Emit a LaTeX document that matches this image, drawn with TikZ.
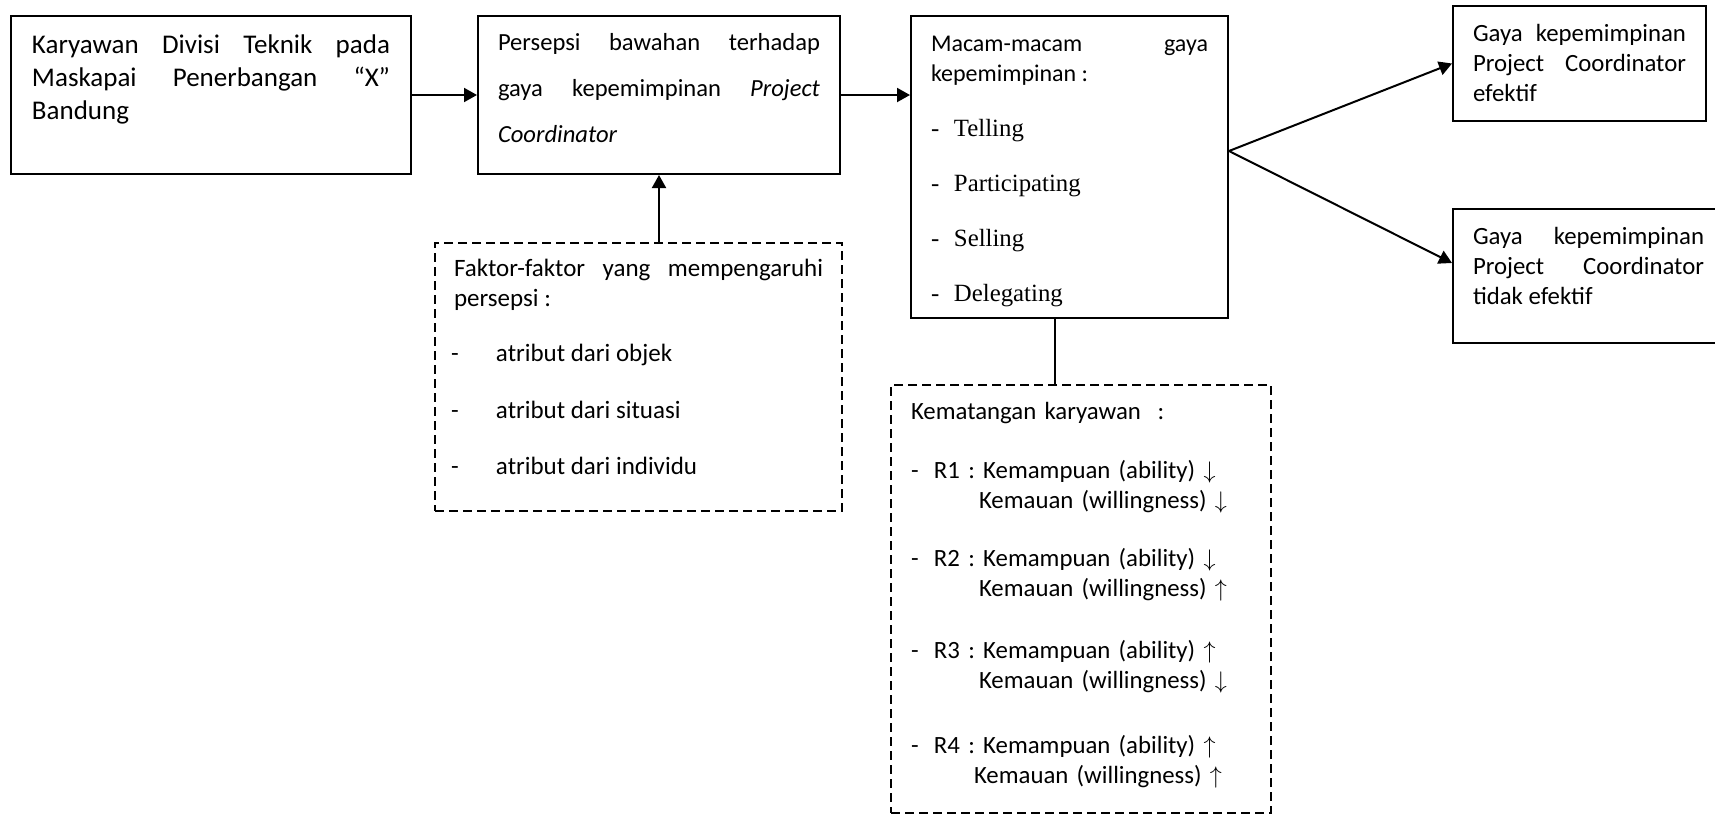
\documentclass[tikz,border=0pt]{standalone}
\usepackage{fontspec}
\setmainfont{Carlito}
\newfontfamily\timesfont{Liberation Serif}
\usetikzlibrary{arrows.meta}
\frenchspacing
\tolerance=10000
\hbadness=10000
\hyphenpenalty=10000
\exhyphenpenalty=10000
\newcommand\gayaItem[1]{{\timesfont\fontsize{12.4}{15}\selectfont\makebox[11.5pt][l]{-}#1}}
\newcommand\faktorItem[1]{\hspace*{-1.5pt}\makebox[22.5pt][l]{-}#1}

\begin{document}
\begin{tikzpicture}
[x=0.5pt,y=-0.5pt,%
  boxDecorate/.style={draw,line width=1pt,anchor=north west,inner xsep=10pt,inner ysep=0pt,align=justify},%
  dashDecorate/.style={boxDecorate,dash pattern=on 4.5pt off 2.5pt},%
  arrowDecorate/.style={-{Triangle[length=6.5pt,width=7pt]},line width=1pt},%
  lineDecorate/.style={-,line width=1pt}]
\useasboundingbox (0,0) rectangle (1715,815);
%% boxes
\node (karyawan) at (10,15) [boxDecorate,inner xsep=10.5pt,text width=179pt,
  text height=18.5pt,text depth=60.5pt,font=\fontsize{13.5}{16.5}\selectfont]
  {Karyawan Divisi Teknik pada\linebreak Maskapai Penerbangan “X”\linebreak Bandung};
\node (persepsi) at (477,15) [boxDecorate,text width=161pt,
  text height=17pt,text depth=62pt,font=\fontsize{12.3}{23}\selectfont]
  {Persepsi bawahan terhadap\linebreak gaya kepemimpinan \textit{Project}\linebreak \textit{Coordinator}};
\node (macam) at (910,15) [boxDecorate,text width=138.5pt,
  text height=17.5pt,text depth=133.5pt,font=\fontsize{12}{15}\selectfont]
  {Macam-macam gaya\linebreak kepemimpinan :\\[12.5pt]
   \gayaItem{Telling}\\[12.5pt]
   \gayaItem{Participating}\\[12.5pt]
   \gayaItem{Selling}\\[12.5pt]
   \gayaItem{Delegating}};
\node (efektif) at (1452,5) [boxDecorate,text width=106.5pt,
  text height=17.5pt,text depth=40pt,font=\fontsize{12.4}{15}\selectfont]
  {Gaya kepemimpinan\linebreak Project Coordinator\linebreak efektif};
\node (tidakefektif) at (1452,208) [boxDecorate,text width=115.5pt,
  text height=17.5pt,text depth=49.5pt,font=\fontsize{12.4}{15}\selectfont]
  {Gaya kepemimpinan\linebreak Project Coordinator\linebreak tidak efektif};
\node (faktor) at (434,242) [dashDecorate,inner xsep=9.5pt,text width=184.5pt,
  text height=16.5pt,text depth=117.5pt,font=\fontsize{12.5}{15}\selectfont]
  {Faktor-faktor yang mempengaruhi\linebreak persepsi :\\[12.5pt]
   \faktorItem{atribut dari objek}\\[13.5pt]
   \faktorItem{atribut dari situasi}\\[13pt]
   \faktorItem{atribut dari individu}};
\node (kematangan) at (890,384) [dashDecorate,align=left,text width=170pt,
  text height=17pt,text depth=197pt,font=\fontsize{12.4}{15}\selectfont]
  {Kematangan karyawan\ \ :\\[14.5pt]
   \makebox[11.5pt][l]{-}R1 : Kemampuan (ability) $\downarrow$\\
   \hspace*{34pt}Kemauan (willingness) $\downarrow$\\[14pt]
   \makebox[11.5pt][l]{-}R2 : Kemampuan (ability) $\downarrow$\\
   \hspace*{34pt}Kemauan (willingness) $\uparrow$\\[16pt]
   \makebox[11.5pt][l]{-}R3 : Kemampuan (ability) $\uparrow$\\
   \hspace*{34pt}Kemauan (willingness) $\downarrow$\\[17.5pt]
   \makebox[11.5pt][l]{-}R4 : Kemampuan (ability) $\uparrow$\\
   \hspace*{31.5pt}Kemauan (willingness) $\uparrow$};
%% connectors
\draw[arrowDecorate] (karyawan) -- (persepsi);
\draw[arrowDecorate] (persepsi.east) -- (persepsi.east -| macam.west);
\draw[arrowDecorate] (faktor.north -| persepsi.south) -- (persepsi.south);
\draw[lineDecorate] ([xshift=-7.5pt]macam.south) -- ([xshift=-7.5pt]macam.south |- kematangan.north);
\coordinate (split) at ([yshift=8pt]macam.east);
\path
\foreach \target/\shift in {efektif/0pt, tidakefektif/6.5pt}
{
  (split) edge[arrowDecorate] ([yshift=\shift]\target.west)
};
\end{tikzpicture}
\end{document}
